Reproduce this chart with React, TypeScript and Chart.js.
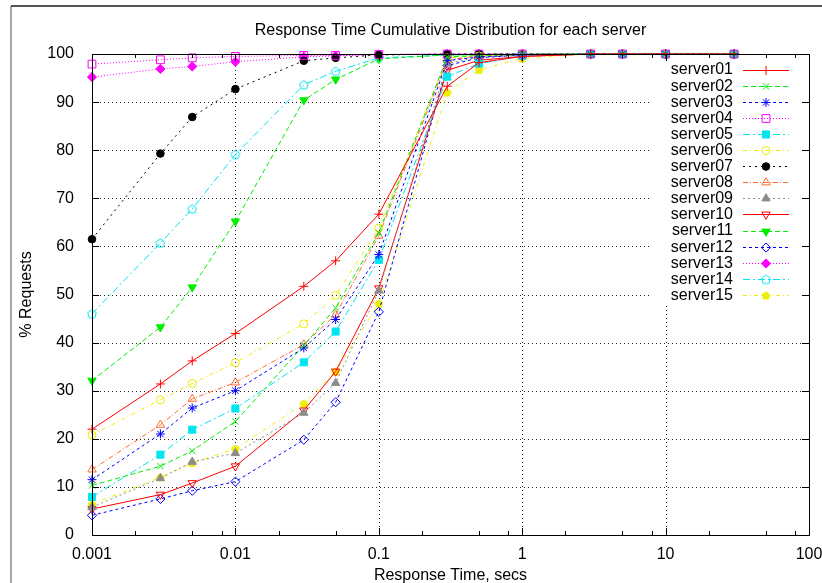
import { useEffect, useRef } from 'react';
import Chart from 'chart.js/auto';
import { drawPoint } from 'chart.js/helpers';

// ---------- data ----------
const xValues = [0.001, 0.003, 0.005, 0.01, 0.03, 0.05, 0.1, 0.3, 0.5, 1, 3, 5, 10, 30];

const server01 = [22.0, 31.4, 36.2, 41.9, 51.7, 57.0, 66.7, 93.3, 98.2, 99.5, 100, 100, 100, 100];
const server02 = [10.3, 14.3, 17.5, 23.6, 39.4, 47.2, 62.8, 99.4, 99.7, 99.9, 100, 100, 100, 100];
const server03 = [11.5, 21.0, 26.4, 30.0, 38.9, 44.8, 58.3, 98.6, 99.4, 99.8, 100, 100, 100, 100];
const server04 = [97.9, 98.8, 99.2, 99.5, 99.7, 99.7, 99.9, 100, 100, 100, 100, 100, 100, 100];
const server05 = [7.9, 16.7, 21.9, 26.3, 35.9, 42.3, 57.2, 95.3, 98.0, 99.6, 100, 100, 100, 100];
const server06 = [20.8, 28.1, 31.5, 35.8, 43.9, 49.8, 63.8, 99.2, 99.6, 99.9, 100, 100, 100, 100];
const server07 = [61.5, 79.3, 86.9, 92.7, 98.6, 99.2, 99.8, 100, 100, 100, 100, 100, 100, 100];
const server08 = [13.6, 22.9, 28.3, 31.7, 39.6, 45.8, 62.2, 98.8, 99.6, 99.9, 100, 100, 100, 100];
const server09 = [5.8, 11.8, 15.2, 17.0, 25.4, 31.6, 50.8, 98.0, 99.3, 99.8, 100, 100, 100, 100];
const server10 = [5.4, 8.4, 10.8, 14.3, 25.9, 34.0, 51.3, 96.6, 98.7, 99.5, 100, 100, 100, 100];
const server11 = [32.1, 43.2, 51.5, 65.2, 90.4, 94.7, 99.0, 99.8, 99.9, 100, 100, 100, 100, 100];
const server12 = [4.1, 7.5, 9.2, 11.1, 19.8, 27.6, 46.4, 97.6, 99.2, 99.8, 100, 100, 100, 100];
const server13 = [95.2, 96.9, 97.4, 98.4, 99.4, 99.6, 99.9, 100, 100, 100, 100, 100, 100, 100];
const server14 = [46.0, 60.7, 67.8, 79.1, 93.6, 96.4, 99.2, 99.8, 99.9, 100, 100, 100, 100, 100];
const server15 = [6.4, 12.0, 15.0, 17.9, 27.3, 34.0, 48.1, 92.0, 96.7, 99.1, 100, 100, 100, 100];

const seriesNames = [
  'server01', 'server02', 'server03', 'server04', 'server05',
  'server06', 'server07', 'server08', 'server09', 'server10',
  'server11', 'server12', 'server13', 'server14', 'server15',
];
const seriesValues = [
  server01, server02, server03, server04, server05,
  server06, server07, server08, server09, server10,
  server11, server12, server13, server14, server15,
];

const xTickValues = [0.001, 0.01, 0.1, 1, 10, 100];
const xMinorTicks = [
  0.002, 0.005, 0.008, 0.02, 0.05, 0.08, 0.2, 0.5, 0.8,
  2, 5, 8, 20, 50, 80,
];
const yTickValues = [0, 10, 20, 30, 40, 50, 60, 70, 80, 90, 100];

const titleText = 'Response Time Cumulative Distribution for each server';
const xTitle = 'Response Time, secs';
const yTitle = '% Requests';

// ---------- styles ----------
const FONT = "'Liberation Sans', Arial, Helvetica, sans-serif";

function pentagon(color: string, filled: boolean): HTMLCanvasElement {
  const c = document.createElement('canvas');
  c.width = 12;
  c.height = 12;
  const ctx = c.getContext('2d')!;
  ctx.beginPath();
  for (let i = 0; i < 5; i++) {
    const a = -Math.PI / 2 + (i * 2 * Math.PI) / 5;
    const px = 6 + 4.6 * Math.cos(a);
    const py = 6.3 + 4.6 * Math.sin(a);
    if (i === 0) ctx.moveTo(px, py);
    else ctx.lineTo(px, py);
  }
  ctx.closePath();
  if (filled) {
    ctx.fillStyle = color;
    ctx.fill();
  } else {
    ctx.strokeStyle = color;
    ctx.lineWidth = 1;
    ctx.stroke();
  }
  return c;
}

type Sty = { color: string; dash: number[]; point: any; fill: boolean; r: number; rot?: number };

function buildStyles(): Sty[] {
  return [
    { color: '#ff0000', dash: [], point: 'cross', fill: false, r: 4.5 },
    { color: '#00ee00', dash: [5, 3], point: 'crossRot', fill: false, r: 4.5 },
    { color: '#0000ff', dash: [3, 3], point: 'star', fill: false, r: 4.5 },
    { color: '#ff00ff', dash: [1, 2], point: 'rect', fill: false, r: 5.5 },
    { color: '#00e5ee', dash: [7, 3, 2, 3], point: 'rect', fill: true, r: 5 },
    { color: '#eeee00', dash: [4, 3, 1, 3], point: 'circle', fill: false, r: 4 },
    { color: '#000000', dash: [2, 4], point: 'circle', fill: true, r: 3.8 },
    { color: '#ff6a30', dash: [5, 2, 1, 2], point: 'triangle', fill: false, r: 4.8 },
    { color: '#8c8c8c', dash: [2, 3], point: 'triangle', fill: true, r: 4.8 },
    { color: '#ff0000', dash: [], point: 'triangle', rot: 180, fill: false, r: 4.8 },
    { color: '#00ee00', dash: [5, 3], point: 'triangle', rot: 180, fill: true, r: 4.8 },
    { color: '#0000ff', dash: [3, 3], point: 'rectRot', fill: false, r: 4.6 },
    { color: '#ff00ff', dash: [1, 2], point: 'rectRot', fill: true, r: 4.6 },
    { color: '#00e5ee', dash: [7, 3, 2, 3], point: pentagon('#00e5ee', false), fill: false, r: 5 },
    { color: '#eeee00', dash: [4, 3, 1, 3], point: pentagon('#eeee00', true), fill: true, r: 5 },
  ];
}

// ---------- plugins ----------
const framePlugin = {
  id: 'frame',
  beforeDraw(chart: any) {
    const ctx = chart.ctx;
    ctx.save();
    ctx.fillStyle = '#ffffff';
    ctx.fillRect(0, 0, chart.width, chart.height);
    ctx.strokeStyle = '#8a8a8a';
    ctx.lineWidth = 1.5;
    ctx.beginPath();
    ctx.moveTo(11, 6);
    ctx.lineTo(11, chart.height);
    ctx.stroke();
    ctx.strokeStyle = '#1a1a1a';
    ctx.beginPath();
    ctx.moveTo(11, 6);
    ctx.lineTo(chart.width, 6);
    ctx.stroke();
    ctx.restore();
  },
  beforeDatasetsDraw(chart: any) {
    const ctx = chart.ctx;
    const { left, right, top, bottom } = chart.chartArea;
    const xs = chart.scales.x;
    const ys = chart.scales.y;
    ctx.save();
    ctx.strokeStyle = '#202020';
    ctx.lineWidth = 1;
    ctx.setLineDash([1, 3]);
    yTickValues.forEach((v) => {
      if (v === 0 || v === 100) return;
      const py = Math.round(ys.getPixelForValue(v)) + 0.5;
      ctx.beginPath();
      ctx.moveTo(left, py);
      ctx.lineTo(right, py);
      ctx.stroke();
    });
    xTickValues.forEach((v, i) => {
      if (i === 0 || i === xTickValues.length - 1) return;
      const px = Math.round(xs.getPixelForValue(v)) + 0.5;
      ctx.beginPath();
      ctx.moveTo(px, top);
      ctx.lineTo(px, bottom);
      ctx.stroke();
    });
    ctx.setLineDash([]);
    // legend background (opaque key box hides grid)
    ctx.fillStyle = '#ffffff';
    ctx.fillRect(652, 59, 152, 246);
    ctx.restore();
  },
  afterDatasetsDraw(chart: any) {
    const ctx = chart.ctx;
    const { left, right, top, bottom } = chart.chartArea;
    const xs = chart.scales.x;
    const ys = chart.scales.y;
    ctx.save();
    ctx.strokeStyle = '#000000';
    ctx.lineWidth = 1;
    ctx.setLineDash([]);
    // border
    ctx.strokeRect(Math.round(left) + 0.5, Math.round(top) + 0.5, Math.round(right - left), Math.round(bottom - top));
    // ticks
    ctx.beginPath();
    xTickValues.forEach((v) => {
      const px = Math.round(xs.getPixelForValue(v)) + 0.5;
      ctx.moveTo(px, bottom);
      ctx.lineTo(px, bottom - 7);
      ctx.moveTo(px, top);
      ctx.lineTo(px, top + 7);
    });
    xMinorTicks.forEach((v) => {
      const px = Math.round(xs.getPixelForValue(v)) + 0.5;
      ctx.moveTo(px, bottom);
      ctx.lineTo(px, bottom - 4);
      ctx.moveTo(px, top);
      ctx.lineTo(px, top + 4);
    });
    yTickValues.forEach((v) => {
      const py = Math.round(ys.getPixelForValue(v)) + 0.5;
      ctx.moveTo(left, py);
      ctx.lineTo(left + 7, py);
      ctx.moveTo(right, py);
      ctx.lineTo(right - 7, py);
    });
    ctx.stroke();

    // key
    const rowTop = 69.5;
    const rowStep = 16.1;
    ctx.font = `16px ${FONT}`;
    ctx.textAlign = 'right';
    ctx.textBaseline = 'middle';
    chart.data.datasets.forEach((ds: any, i: number) => {
      const y = rowTop + i * rowStep;
      ctx.fillStyle = '#000000';
      ctx.fillText(ds.label, 733, y + 0.5);
      ctx.strokeStyle = ds.borderColor;
      ctx.lineWidth = 1;
      ctx.setLineDash(ds.borderDash || []);
      ctx.beginPath();
      ctx.moveTo(743, Math.round(y) + 0.5);
      ctx.lineTo(789, Math.round(y) + 0.5);
      ctx.stroke();
      ctx.setLineDash([]);
      ctx.fillStyle = ds.pointBackgroundColor;
      ctx.strokeStyle = ds.pointBorderColor;
      drawPoint(ctx, {
        pointStyle: ds.pointStyle,
        rotation: ds.pointRotation || 0,
        radius: ds.pointRadius,
        borderWidth: 1,
      } as any, 766, Math.round(y) + 0.5);
    });
    ctx.restore();
  },
};

export default function App() {
  const ref = useRef<HTMLCanvasElement | null>(null);

  useEffect(() => {
    document.body.style.margin = '0';
    const canvas = ref.current;
    if (!canvas) return;
    const styles = buildStyles();

    const datasets = seriesNames.map((name, i) => {
      const s = styles[i];
      return {
        label: name,
        data: xValues.map((x, j) => ({ x, y: seriesValues[i][j] })),
        borderColor: s.color,
        borderWidth: 1,
        borderDash: s.dash,
        pointStyle: s.point,
        pointRotation: s.rot || 0,
        pointRadius: s.r,
        pointHoverRadius: s.r,
        pointBorderWidth: 1,
        pointBorderColor: s.color,
        pointBackgroundColor: s.fill ? s.color : 'rgba(0,0,0,0)',
        backgroundColor: s.color,
        tension: 0,
        fill: false,
        clip: false as any,
      };
    });

    const chart = new Chart(canvas, {
      type: 'line',
      data: { datasets },
      plugins: [framePlugin],
      options: {
        animation: false,
        responsive: false,
        devicePixelRatio: 1,
        events: [],
        layout: { padding: { left: 0, right: 13, top: 0, bottom: 0 } },
        font: { family: FONT },
        color: '#000000',
        plugins: {
          legend: { display: false },
          tooltip: { enabled: false },
          title: {
            display: true,
            text: titleText,
            fullSize: false,
            color: '#000000',
            font: { family: FONT, size: 16, weight: 'normal', lineHeight: 1.2 },
            padding: { top: 21.4, bottom: 13.4 },
          },
        },
        scales: {
          x: {
            type: 'logarithmic',
            min: 0.001,
            max: 100,
            grid: { display: false },
            border: { display: false },
            afterBuildTicks: (scale: any) => {
              scale.ticks = xTickValues.map((v) => ({ value: v, major: true }));
            },
            afterFit: (scale: any) => {
              scale.height = 48;
              scale.paddingLeft = 0;
              scale.paddingRight = 0;
            },
            ticks: {
              color: '#000000',
              font: { family: FONT, size: 16 },
              padding: 2,
              maxRotation: 0,
              autoSkip: false,
              callback: (v: any) => String(v),
            },
            title: {
              display: true,
              text: xTitle,
              color: '#000000',
              font: { family: FONT, size: 16, lineHeight: 1 },
              padding: { top: 0, bottom: -1 },
            },
          },
          y: {
            type: 'linear',
            min: 0,
            max: 100,
            grid: { display: false },
            border: { display: false },
            afterBuildTicks: (scale: any) => {
              scale.ticks = yTickValues.map((v) => ({ value: v }));
            },
            afterFit: (scale: any) => {
              scale.width = 92;
            },
            ticks: {
              color: '#000000',
              font: { family: FONT, size: 16 },
              padding: 10,
              autoSkip: false,
            },
            title: {
              display: true,
              text: yTitle,
              color: '#000000',
              font: { family: FONT, size: 16, lineHeight: 1 },
              padding: { top: 19, bottom: 0 },
            },
          },
        },
      } as any,
    });

    return () => {
      chart.destroy();
    };
  }, []);

  return (
    <div style={{ position: 'absolute', left: 0, top: 0 }}>
      <canvas ref={ref} width={822} height={583} style={{ width: 822, height: 583, display: 'block' }} />
    </div>
  );
}
